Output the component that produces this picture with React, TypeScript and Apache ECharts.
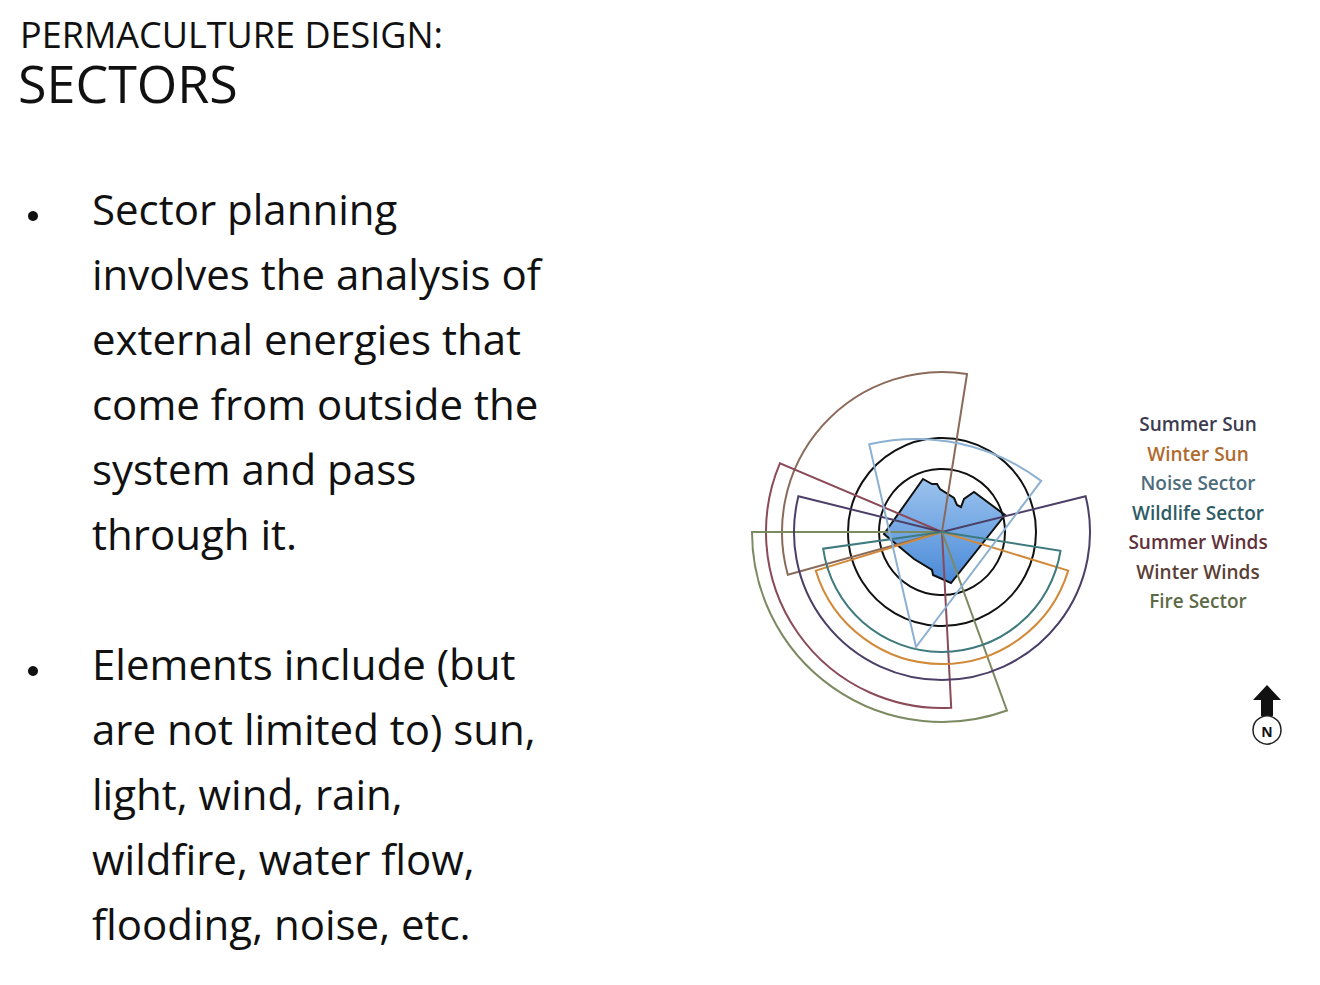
import React, { useEffect, useRef } from "react";
import * as echarts from "echarts";

const sectorNames = ["Winter Winds", "Summer Winds", "Fire Sector", "Summer Sun", "Winter Sun", "Wildlife Sector", "Noise Sector"];
const sectorRadius = [160, 176, 190, 148, 132, 120, 208];
const sectorStart = [164.5, 87, 70, 346, 17, 9, 257];
const sectorEnd = [279, 203, 180, 554, 163, 172, 307];
const sectorOffX = [0, 0, 0, 0, 0, 0, -26];
const sectorOffY = [0, 0, 0, 0, 0, 0, 115];
const sectorColors = ["#8a6a5a", "#8a4a58", "#7c8a62", "#4b3f68", "#d08a3a", "#3f7a7c", "#8cb0d2"];
const ringRadii = [63, 94];
const siteOutline: [number, number][] = [
  [-58, 2], [-19, -53], [-10, -48], [-5, -48], [-2, -43], [12, -34], [15, -27], [19, -25], [22, -33], [32, -40], [63, -17], [9, 51], [-9, 43], [-10, 38], [-28, 27],
];
const legendNames = ["Summer Sun", "Winter Sun", "Noise Sector", "Wildlife Sector", "Summer Winds", "Winter Winds", "Fire Sector"];
const legendColors = ["#3d3b4f", "#b06a2e", "#4d6d7c", "#2f5c63", "#60313a", "#5a4035", "#5d6a45"];
const bullet1 = ["Sector planning", "involves the analysis of", "external energies that", "come from outside the", "system and pass", "through it."];
const bullet2 = ["Elements include (but", "are not limited to) sun,", "light, wind, rain,", "wildfire, water flow,", "flooding, noise, etc."];

export default function App() {
  const ref = useRef<HTMLDivElement>(null);
  useEffect(() => {
    document.body.style.margin = "0";
    const chart = echarts.init(ref.current!, null, { renderer: "svg" });
    const font = "'Open Sans', Lato, sans-serif";
    const graphics: any[] = [
      { type: "text", left: 20, top: 16, style: { text: "PERMACULTURE DESIGN:", font: `36px ${font}`, fill: "#111" } },
      { type: "text", left: 18, top: 56, style: { text: "SECTORS", font: `52px ${font}`, fill: "#111" } },
    ];
    bullet1.forEach((t, i) => {
      graphics.push({ type: "text", left: 92, top: 187 + i * 65, style: { text: t, font: `42px ${font}`, fill: "#111" } });
    });
    bullet2.forEach((t, i) => {
      graphics.push({ type: "text", left: 92, top: 642 + i * 65, style: { text: t, font: `42px ${font}`, fill: "#111" } });
    });
    graphics.push({ type: "circle", shape: { cx: 33, cy: 216, r: 5 }, style: { fill: "#111" } });
    graphics.push({ type: "circle", shape: { cx: 33, cy: 671, r: 5 }, style: { fill: "#111" } });
    legendNames.forEach((t, i) => {
      graphics.push({ type: "text", x: 1198, y: 424 + i * 29.5, style: { text: t, font: `600 19px ${font}`, fill: legendColors[i], align: "center", verticalAlign: "middle" } });
    });
    graphics.push({ type: "polygon", shape: { points: [[1267, 685], [1281, 700], [1273, 700], [1273, 716], [1261, 716], [1261, 700], [1253, 700]] }, style: { fill: "#111" } });
    graphics.push({ type: "circle", shape: { cx: 1267, cy: 730, r: 14 }, style: { fill: "#fff", stroke: "#222", lineWidth: 1.5 } });
    graphics.push({ type: "text", x: 1267, y: 731, style: { text: "N", font: `bold 14px ${font}`, fill: "#111", align: "center", verticalAlign: "middle" } });

    const data = sectorNames.map((n, i) => ({ name: n, value: [sectorRadius[i], sectorStart[i], sectorEnd[i], sectorOffX[i], sectorOffY[i], i] }));

    chart.setOption({
      animation: false,
      polar: { center: [942, 532], radius: 200 },
      radiusAxis: { min: 0, max: 200, show: false },
      angleAxis: { min: 0, max: 360, show: false },
      graphic: graphics,
      series: [
        {
          type: "custom",
          coordinateSystem: "polar",
          data: [{ value: [0, 0, 0, 0, 0, -1] }],
          renderItem: (params: any, api: any) => {
            const c = api.coord([0, 0]);
            const p = api.coord([100, 0]);
            const u = Math.hypot(p[0] - c[0], p[1] - c[1]) / 100;
            const children: any[] = [];
            children.push({
              type: "polygon",
              shape: { points: siteOutline.map(([x, y]) => [c[0] + x * u, c[1] + y * u]) },
              style: {
                fill: new echarts.graphic.LinearGradient(0, 0, 0, 1, [
                  { offset: 0, color: "#9cc3ee" },
                  { offset: 1, color: "#4a8ad8" },
                ]),
                stroke: "#111",
                lineWidth: 2,
              },
            });
            ringRadii.forEach((r) => {
              children.push({ type: "circle", shape: { cx: c[0], cy: c[1], r: r * u }, style: { fill: "none", stroke: "#111", lineWidth: 2 } });
            });
            return { type: "group", children };
          },
          z: 1,
        },
        {
          type: "custom",
          coordinateSystem: "polar",
          data,
          renderItem: (params: any, api: any) => {
            const c = api.coord([0, 0]);
            const p = api.coord([100, 0]);
            const u = Math.hypot(p[0] - c[0], p[1] - c[1]) / 100;
            const r = api.value(0);
            const s = api.value(1);
            const e = api.value(2);
            const ox = api.value(3);
            const oy = api.value(4);
            const idx = api.value(5);
            return {
              type: "sector",
              shape: { cx: c[0] + ox * u, cy: c[1] + oy * u, r0: 0, r: r * u, startAngle: (s * Math.PI) / 180, endAngle: (e * Math.PI) / 180, clockwise: true },
              style: { fill: "none", stroke: sectorColors[idx], lineWidth: 2 },
            };
          },
          z: 2,
        },
      ],
    });
    return () => chart.dispose();
  }, []);
  return <div ref={ref} style={{ width: 1320, height: 985 }} />;
}
